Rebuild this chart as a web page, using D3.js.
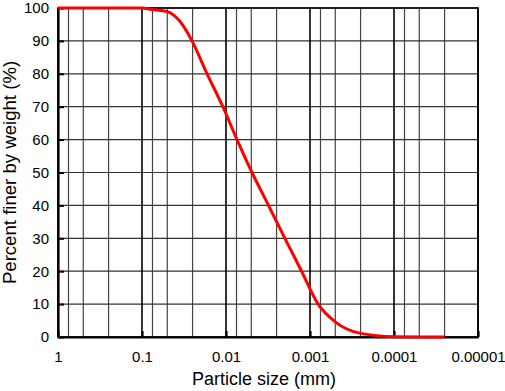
<!DOCTYPE html>
<html>
<head>
<meta charset="utf-8">
<script src="https://cdn.jsdelivr.net/npm/d3@7"></script>
<style>
  body { margin: 0; background: #fff; }
  text { font-family: "Liberation Sans", Arial, sans-serif; fill: #000; }
</style>
</head>
<body>
<svg width="505" height="391"></svg>
<script>
// grain size distribution (mm vs % finer)
var sizes = [1, 0.2, 0.1, 0.08, 0.05, 0.035, 0.0254, 0.0168, 0.0109, 0.0074, 0.0049, 0.00312, 0.00199, 0.00126, 0.0008, 0.0005, 0.00025, 0.0001, 0.000025];
var percents = [100, 100, 100, 99.6, 98.9, 95.8, 90, 80, 70, 60, 50, 40, 30, 20, 10, 4.6, 1.1, 0.1, 0];

var decades = [1, 0.1, 0.01, 0.001, 0.0001, 0.00001];
var decadeLabels = ["1", "0.1", "0.01", "0.001", "0.0001", "0.00001"];
var minorFactors = [0.75, 0.5, 0.25];
var yTicks = [0, 10, 20, 30, 40, 50, 60, 70, 80, 90, 100];

var svg = d3.select("svg"),
    margin = {top: 8, right: 27, bottom: 54, left: 58},
    width = +svg.attr("width") - margin.left - margin.right,
    height = +svg.attr("height") - margin.top - margin.bottom;

var x = d3.scaleLog().domain([1, 0.00001]).range([0, width]),
    y = d3.scaleLinear().domain([0, 100]).range([height, 0]);

var g = svg.append("g").attr("transform", "translate(" + margin.left + "," + margin.top + ")");

// minor vertical lines
var minors = [];
decades.slice(0, -1).forEach(function(d) {
  minorFactors.forEach(function(f) { minors.push(d * f); });
});

g.selectAll(".vminor")
  .data(minors)
  .enter().append("line")
  .attr("x1", function(d) { return x(d); })
  .attr("x2", function(d) { return x(d); })
  .attr("y1", 0).attr("y2", height)
  .attr("stroke", "#444").attr("stroke-width", 1.2);

g.selectAll(".hgrid")
  .data(yTicks)
  .enter().append("line")
  .attr("x1", 0).attr("x2", width)
  .attr("y1", function(d) { return y(d); })
  .attr("y2", function(d) { return y(d); })
  .attr("stroke", "#333").attr("stroke-width", 1.2);

g.selectAll(".vmajor")
  .data(decades)
  .enter().append("line")
  .attr("x1", function(d) { return x(d); })
  .attr("x2", function(d) { return x(d); })
  .attr("y1", 0).attr("y2", height)
  .attr("stroke", "#000").attr("stroke-width", 1.6);

// frame
g.append("rect")
  .attr("width", width).attr("height", height)
  .attr("fill", "none").attr("stroke", "#000").attr("stroke-width", 1.6);

// axes
var xAxis = g.append("g")
  .attr("transform", "translate(0," + height + ")")
  .call(d3.axisBottom(x).tickValues(decades)
    .tickFormat(function(d, i) { return decadeLabels[i]; })
    .tickSizeInner(-6).tickSizeOuter(0).tickPadding(14));
xAxis.select(".domain").attr("stroke-width", 2.2);
xAxis.selectAll("line").attr("stroke-width", 2.2);
xAxis.selectAll("text").attr("font-size", 15).style("font-family", "Liberation Sans, Arial, sans-serif");

var yAxis = g.append("g")
  .call(d3.axisLeft(y).tickValues(yTicks)
    .tickSizeInner(-6).tickSizeOuter(0).tickPadding(9));
yAxis.select(".domain").attr("stroke-width", 2.2);
yAxis.selectAll("line").attr("stroke-width", 2);
yAxis.selectAll("text").attr("font-size", 15).style("font-family", "Liberation Sans, Arial, sans-serif");

// curve
var line = d3.line()
  .x(function(d) { return x(d[0]); })
  .y(function(d) { return y(d[1]); })
  .curve(d3.curveMonotoneX);

g.append("path")
  .datum(sizes.map(function(s, i) { return [s, percents[i]]; }))
  .attr("fill", "none")
  .attr("stroke", "#ff0000")
  .attr("stroke-width", 3)
  .attr("d", line);

// titles
svg.append("text")
  .attr("x", margin.left + width / 2 - 4)
  .attr("y", 385)
  .attr("text-anchor", "middle")
  .attr("font-size", 18)
  .text("Particle size (mm)");

svg.append("text")
  .attr("transform", "translate(16," + (margin.top + height / 2) + ") rotate(-90)")
  .attr("text-anchor", "middle")
  .attr("font-size", 18.6)
  .text("Percent finer by weight (%)");
</script>
</body>
</html>
